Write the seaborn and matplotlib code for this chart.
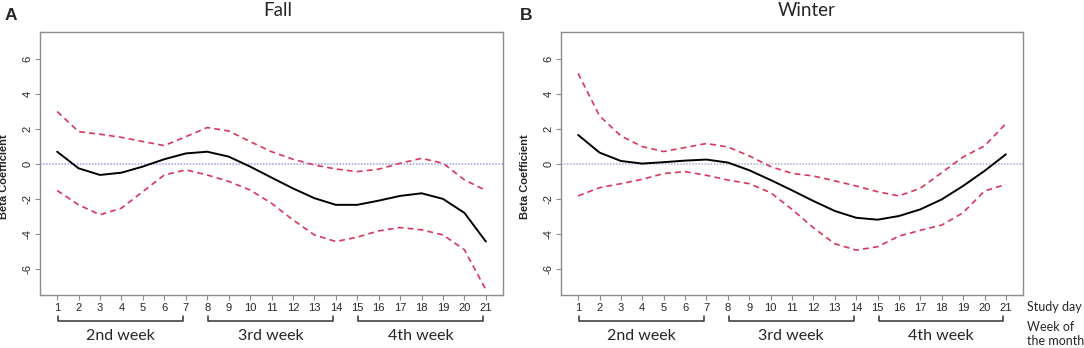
import pandas as pd
import seaborn as sns
import matplotlib.pyplot as plt

days = list(range(1, 22))

fall_beta = [0.70, -0.25, -0.63, -0.50, -0.15, 0.27, 0.60, 0.70, 0.42, -0.15, -0.78,
             -1.40, -1.96, -2.34, -2.34, -2.10, -1.83, -1.68, -2.00, -2.80, -4.44]
fall_upper = [3.00, 1.85, 1.70, 1.52, 1.28, 1.05, 1.56, 2.08, 1.89, 1.28, 0.70,
              0.27, -0.06, -0.29, -0.44, -0.30, 0.04, 0.32, 0.04, -0.91, -1.52]
fall_lower = [-1.52, -2.34, -2.91, -2.53, -1.58, -0.63, -0.34, -0.63, -1.00, -1.49, -2.25,
              -3.20, -4.06, -4.44, -4.19, -3.83, -3.64, -3.77, -4.06, -4.91, -7.20]

winter_beta = [1.66, 0.65, 0.17, 0.02, 0.10, 0.19, 0.25, 0.08, -0.36, -0.92, -1.51,
               -2.12, -2.69, -3.08, -3.19, -2.98, -2.60, -2.03, -1.26, -0.40, 0.55]
winter_upper = [5.18, 2.75, 1.60, 0.99, 0.71, 0.94, 1.17, 0.97, 0.46, -0.15, -0.54,
                -0.69, -0.97, -1.26, -1.59, -1.83, -1.39, -0.50, 0.40, 1.03, 2.31]
winter_lower = [-1.83, -1.36, -1.13, -0.88, -0.55, -0.44, -0.65, -0.92, -1.13, -1.64, -2.60,
                -3.65, -4.57, -4.93, -4.74, -4.13, -3.80, -3.50, -2.79, -1.55, -1.17]

weeks = ["2nd week", "3rd week", "4th week"]
week_start = [1, 8, 15]
week_end = [7, 14, 21]

sns.set_style("white")
plt.rcParams["font.family"] = ["Liberation Sans", "DejaVu Sans"]

rot = "#d9365e"
grau = "#8c8c8c"
schrift = ["Lato", "DejaVu Sans"]

fig = plt.figure(figsize=(10.84, 3.48), dpi=100)
ax_a = fig.add_axes([40 / 1084, 53 / 348, 463 / 1084, 263 / 348])
ax_b = fig.add_axes([561 / 1084, 53 / 348, 462 / 1084, 263 / 348])


def panel(ax, beta, upper, lower, null_farbe):
    df = pd.DataFrame({"Tag": days, "beta": beta, "oben": upper, "unten": lower})
    ax.axhline(0, color=null_farbe, lw=1.1, ls=(0, (1, 1)), zorder=1)
    sns.lineplot(data=df, x="Tag", y="beta", ax=ax, color="black", lw=1.4)
    sns.lineplot(data=df, x="Tag", y="oben", ax=ax, color=rot, lw=1.2, linestyle=(0, (3.5, 2.5)))
    sns.lineplot(data=df, x="Tag", y="unten", ax=ax, color=rot, lw=1.2, linestyle=(0, (3.5, 2.5)))

    ax.set_xlim(0.2, 21.8)
    ax.set_ylim(-7.5, 7.55)
    ax.set_xticks(days)
    ax.set_yticks([-6, -4, -2, 0, 2, 4, 6])
    ax.set_yticklabels(["-6", "-4", "-2", "0", "2", "4", "6"], rotation=90, va="center")
    ax.tick_params(axis="both", bottom=True, left=True, direction="out", length=3.5,
                   width=0.8, color=grau, labelsize=8, pad=2)
    for s in ax.spines.values():
        s.set_color(grau)
        s.set_linewidth(1.0)
    ax.set_xlabel("")
    ax.set_ylabel("Beta Coefficient", fontsize=8, fontweight="bold")
    ax.yaxis.set_label_coords(-0.068, 0.45)

    # Wochen-Klammern unter der x-Achse
    trans = ax.get_xaxis_transform()
    for name, s, e in zip(weeks, week_start, week_end):
        x0, x1 = s + 0.05, e - 0.12
        ax.plot([x0, x0, x1, x1], [-0.08, -0.099, -0.099, -0.08], transform=trans,
                color="#333333", lw=1.1, clip_on=False)
        ax.text((x0 + x1) / 2, -0.155, name, transform=trans, ha="center", va="center",
                fontsize=11.5, family=schrift)


panel(ax_a, fall_beta, fall_upper, fall_lower, "#9b9be8")
panel(ax_b, winter_beta, winter_upper, winter_lower, "#a9b0c8")

fig.text(278 / 1084, 1 - 10 / 348, "Fall", ha="center", va="center", fontsize=13.5, family=schrift)
fig.text(807 / 1084, 1 - 10 / 348, "Winter", ha="center", va="center", fontsize=13.5, family=schrift)
fig.text(11 / 1084, 1 - 15 / 348, "A", ha="center", va="center", fontsize=12.5, fontweight="bold")
fig.text(526 / 1084, 1 - 15 / 348, "B", ha="center", va="center", fontsize=12.5, fontweight="bold")

fig.text(1027 / 1084, 1 - 307 / 348, "Study day", ha="left", va="center", fontsize=9, family=schrift)
fig.text(1027 / 1084, 1 - 327 / 348, "Week of", ha="left", va="center", fontsize=9, family=schrift)
fig.text(1027 / 1084, 1 - 341 / 348, "the month", ha="left", va="center", fontsize=9, family=schrift)

plt.savefig("out.png", dpi=100)
